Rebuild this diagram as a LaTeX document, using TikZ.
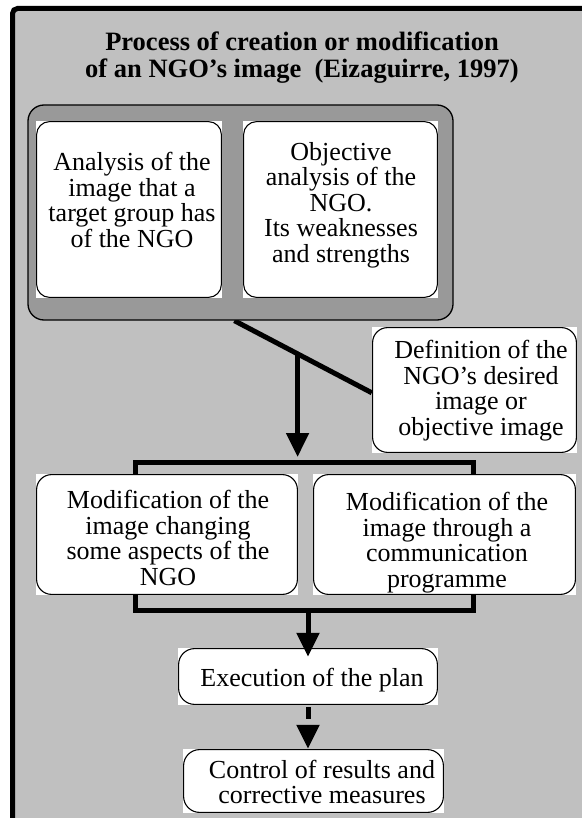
\documentclass[tikz,border=0pt]{standalone}
\usepackage{fontspec}
\setmainfont{Liberation Serif}
\usetikzlibrary{arrows.meta,calc}
\definecolor{panel}{RGB}{192,192,192}
\definecolor{groupfill}{RGB}{153,153,153}
\pgfdeclarelayer{bottom}
\pgfdeclarelayer{links}
\pgfsetlayers{bottom,links,main}
\tikzset{
  wbox/.style={rectangle, fill=white, inner sep=0pt,
    path picture={\draw[line width=1.1pt, rounded corners=#1]
      ([xshift=0.6pt,yshift=-0.6pt]path picture bounding box.north west) rectangle
      ([xshift=-0.6pt,yshift=0.6pt]path picture bounding box.south east);}},
  wbox/.default=14pt,
  txt/.style={align=center, inner sep=0pt, anchor=north, font=\fontsize{26}{25.6}\selectfont},
  conn/.style={line width=5pt, line join=miter},
  arr/.style={conn, -{Triangle[width=22pt,length=24pt]}},
}
\begin{document}
\begin{tikzpicture}[x=1pt,y=-1pt]
\useasboundingbox (0,0) rectangle (581,818);
\clip (0,0) rectangle (581,818);

% panel with a heavy frame
\begin{pgfonlayer}{bottom}
  \fill[white] (0,0) rectangle (581,818);
  \draw[line width=5pt, fill=panel, rounded corners=5pt] (12.5,8.5) rectangle (640,880);
\end{pgfonlayer}

% heading
\node[txt, font=\bfseries\fontsize{26.5}{27}\selectfont] (title) at (302,31.7)
  {Process of creation or modification\\of an NGO’s image\ \ (Eizaguirre, 1997)};

% analysis group
\node[draw, line width=1.3pt, fill=groupfill, rounded corners=16pt, inner sep=0pt,
      minimum width=425pt, minimum height=215pt] (group) at (240.5,212.5) {};
\node[wbox=13pt, minimum width=186pt, minimum height=177pt] (boxA) at (129,209.5) {};
\node[wbox=13pt, minimum width=195pt, minimum height=177pt] (boxB) at (340.5,209.5) {};
\node[txt] (tA) at (132,152) {Analysis of the\\image that a\\target group has\\of the NGO};
\node[txt, font=\fontsize{26}{25.5}\selectfont] (tB) at (341,142)
  {Objective\\analysis of the\\NGO.\\Its weaknesses\\and strengths};

% objective image
\node[wbox=15pt, minimum width=205pt, minimum height=126pt] (def) at (474.5,390) {};
\node[txt] (tDef) at (481,340) {Definition of the\\NGO’s desired\\image or\\objective image};

% two ways of modification
\node[wbox=15pt, minimum width=262pt, minimum height=121pt] (modL) at (167,534.5) {};
\node[wbox=15pt, minimum width=263pt, minimum height=121pt] (modR) at (444.5,534.5) {};
\node[txt] (tModL) at (168,490) {Modification of the\\image changing\\some aspects of the\\NGO};
\node[txt] (tModR) at (447,492) {Modification of the\\image through a\\communication\\programme};

% plan and control
\node[wbox=16pt, minimum width=260pt, minimum height=57pt] (exec) at (308,676.5) {};
\node[txt] (tExec) at (312,668) {Execution of the plan};
\node[wbox=16pt, minimum width=261pt, minimum height=64pt] (ctrl) at (313.5,781) {};
\node[txt, font=\fontsize{26}{25}\selectfont] (tCtrl) at (322,759.5)
  {Control of results and\\corrective measures};

% connector geometry
\coordinate (d1) at ([xshift=207pt]group.south west);
\coordinate (d2) at ([yshift=-66pt]def.north west);
\path (d1) -- (d2) coordinate[pos=0.46] (dm);
\coordinate (upL) at (135,462);
\coordinate (upR) at (473,462);
\coordinate (loL) at (135,610);
\coordinate (loR) at (473,610);

\begin{pgfonlayer}{links}
  \draw[conn] (d1) -- (d2);
  \draw[conn] (modL.north -| upL) -- (upL) -- (upR) -- (modR.north -| upR);
  \draw[conn] (modL.south -| loL) -- (loL) -- (loR) -- (modR.south -| loR);
  \draw[arr, shorten >=5pt] (dm) -- (dm |- upL);
\end{pgfonlayer}

\draw[arr] (exec.north |- loL) -- ([yshift=-9pt]exec.north);
\draw[arr, dash pattern=on 12pt off 30pt] ([yshift=-2pt]exec.south) -- (exec.south |- ctrl.north);
\end{tikzpicture}
\end{document}
